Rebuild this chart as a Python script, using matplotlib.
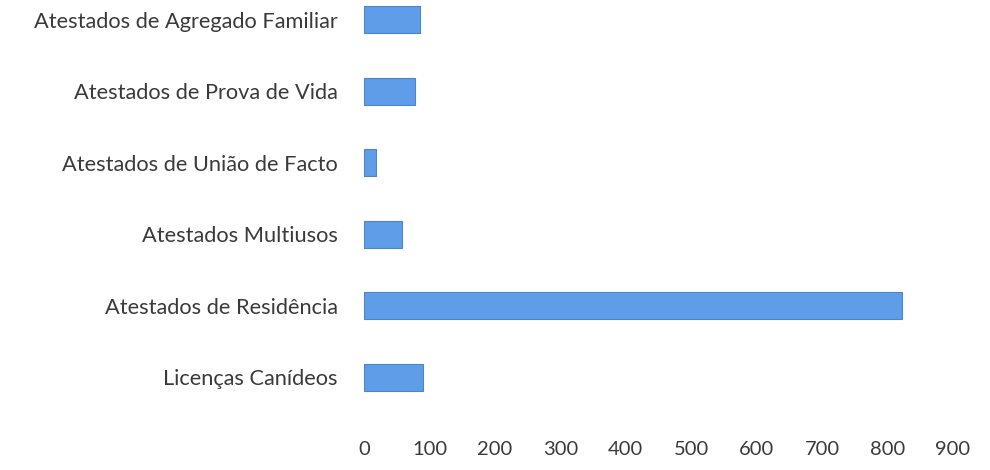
import matplotlib
matplotlib.use('Agg')
import matplotlib.pyplot as plt

categories = ['Licenças Canídeos', 'Atestados de Residência', 'Atestados Multiusos',
              'Atestados de União de Facto', 'Atestados de Prova de Vida',
              'Atestados de Agregado Familiar']
values = [90, 822, 58, 19, 78, 85]
x_ticks = [0, 100, 200, 300, 400, 500, 600, 700, 800, 900]

plt.rcParams['font.family'] = ['Lato', 'DejaVu Sans']

fig = plt.figure(figsize=(9.9, 4.7), dpi=100)
# axes placed by hand so bars land where they do in the scan
ax = fig.add_axes([364 / 990, 1 - 413 / 470, (953 - 364) / 990, 429 / 470])

ax.barh(range(len(categories)), values, height=0.38, color='#5f9de8',
        edgecolor='#4a86cc', linewidth=0.8)

ax.set_xlim(0, 900)
ax.set_ylim(-0.5, 5.5)
ax.set_xticks(x_ticks)
ax.set_xticklabels([str(t) for t in x_ticks], fontsize=14.5)
ax.set_yticks(range(len(categories)))
ax.set_yticklabels(categories, fontsize=15.7)

ax.tick_params(axis='both', length=0, colors='#3a3a3a')
ax.tick_params(axis='y', pad=19)
ax.tick_params(axis='x', pad=20)
for s in ax.spines.values():
    s.set_visible(False)

fig.savefig('out.png', dpi=100, facecolor='white')
